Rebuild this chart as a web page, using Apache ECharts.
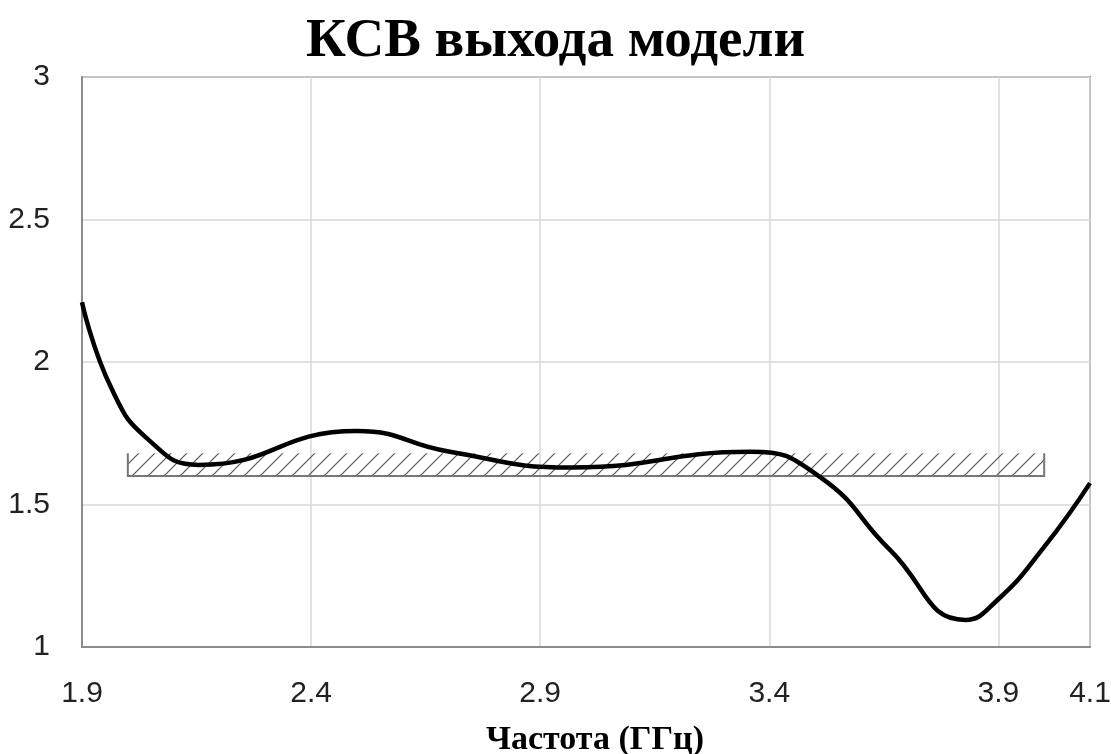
<!DOCTYPE html>
<html><head><meta charset="utf-8">
<script src="https://cdn.jsdelivr.net/npm/echarts@6/dist/echarts.min.js"></script>
<style>html,body{margin:0;padding:0;background:#fff}#c{width:1111px;height:754px}</style>
</head><body><div id="c"></div>
<script>
const freq = [1.9, 1.965, 2.046, 2.155, 2.5, 2.7, 2.97, 3.36, 3.511, 3.664, 3.828, 3.898, 4.0, 4.1];
const vswr = [2.21, 1.905, 1.726, 1.639, 1.758, 1.686, 1.630, 1.685, 1.596, 1.34, 1.095, 1.165, 1.351, 1.575];
const maskFreq = [2.0, 4.0];
const maskVswr = [1.6, 1.68];
const xTicks = [1.9, 2.4, 2.9, 3.4, 3.9, 4.1];
const titleText = 'КСВ выхода модели';
const xName = 'Частота (ГГц)';

const pat = document.createElement('canvas');
pat.width = 16; pat.height = 16;
const pc = pat.getContext('2d');
pc.strokeStyle = '#555'; pc.lineWidth = 1.2;
pc.beginPath();
pc.moveTo(0,16); pc.lineTo(16,0);
pc.moveTo(-4,4); pc.lineTo(4,-4);
pc.moveTo(12,20); pc.lineTo(20,12);
pc.stroke();

const chart = echarts.init(document.getElementById('c'), null, {renderer:'canvas'});
const option = {
  animation: false,
  backgroundColor: '#fff',
  title: {
    text: titleText, left: 'center', top: 9,
    textStyle: {fontFamily: 'Liberation Serif', fontWeight: 'bold', fontSize: 55, color: '#000'}
  },
  grid: {left: 82, right: 21, top: 77, bottom: 107, containLabel: false, outerBoundsMode: 'none',
    show: true, borderColor: '#8c8c8c', borderWidth: 2},
  xAxis: {
    type: 'value', min: 1.9, max: 4.1, interval: 0.5,
    name: xName, nameLocation: 'middle', nameGap: 76,
    nameTextStyle: {fontFamily: 'Liberation Serif', fontWeight: 'bold', fontSize: 34, color: '#000', padding: [0, 0, 0, 18]},
    axisLine: {show: true, lineStyle: {color: '#8c8c8c', width: 2}},
    axisTick: {show: false},
    axisLabel: {margin: 32, fontFamily: 'Liberation Sans', fontSize: 30, color: '#222',
      formatter: v => { const t = xTicks.find(a => Math.abs(a - v) < 1e-6); return t === undefined ? '' : String(t); }},
    splitLine: {show: true, lineStyle: {color: '#d9d9d9', width: 1.5}}
  },
  yAxis: {
    type: 'value', min: 1, max: 3, interval: 0.5,
    axisLine: {show: true, lineStyle: {color: '#8c8c8c', width: 2}},
    axisTick: {show: false},
    axisLabel: {margin: 32, fontFamily: 'Liberation Sans', fontSize: 30, color: '#222'},
    splitLine: {show: true, lineStyle: {color: '#d9d9d9', width: 1.5}}
  },
  series: [
    {
      type: 'custom',
      data: [[maskFreq[0], maskFreq[1], maskVswr[0], maskVswr[1]]],
      encode: {x: [0,1], y: [2,3]},
      z: 1,
      renderItem: function(params, api) {
        const a = api.coord([api.value(0), api.value(3)]);
        const b = api.coord([api.value(1), api.value(2)]);
        return {
          type: 'group',
          children: [
            {type: 'rect', shape: {x: a[0], y: a[1], width: b[0]-a[0], height: b[1]-a[1]},
             style: {fill: {image: pat, repeat: 'repeat'}, stroke: null}},
            {type: 'polyline', shape: {points: [[a[0], a[1]], [a[0], b[1]], [b[0], b[1]], [b[0], a[1]]]},
             style: {fill: null, stroke: '#777', lineWidth: 2}}
          ]
        };
      }
    },
    {
      type: 'line', smooth: 0.5, symbol: 'none', z: 3,
      data: freq.map((f, i) => [f, vswr[i]]),
      lineStyle: {color: '#000', width: 4.5}
    }
  ]
};
chart.setOption(option);
</script></body></html>
